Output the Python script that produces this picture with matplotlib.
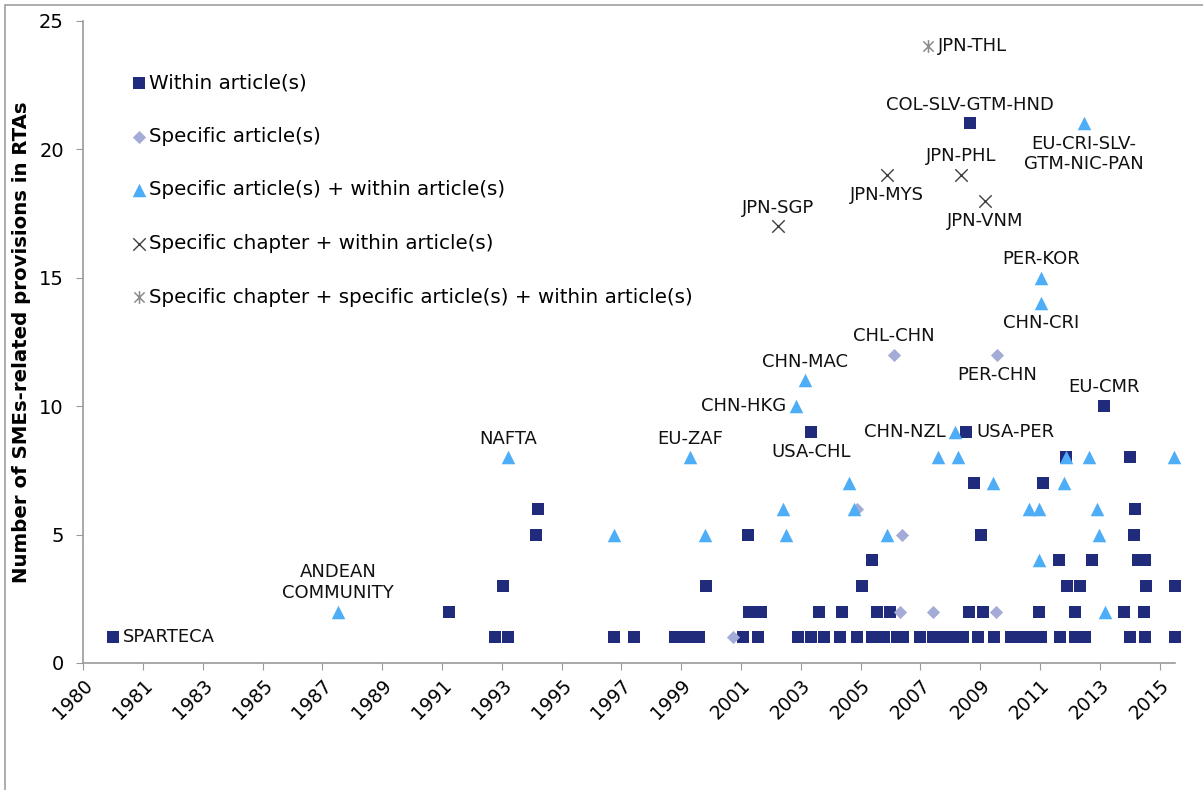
import numpy as np
import matplotlib
matplotlib.use("Agg")
import matplotlib.pyplot as plt
from matplotlib.path import Path

plt.rcParams['font.family'] = ['DejaVu Sans']

# year of entry into force (decimal years) and number of SME provisions
within_x = [2009.23, 2013.66, 2003.99, 2009.11, 2012.40, 2014.51, 2009.37, 2011.64,
            1994.99, 2014.68, 1994.93, 2001.92, 2009.60, 2014.65,
            2006.00, 2012.17, 2013.26, 2014.78, 2015.01,
            1993.84, 2000.53, 2005.67, 2012.43, 2012.86, 2015.05, 2016.00,
            1992.06, 2001.95, 2002.34, 2004.26, 2005.01, 2006.16, 2006.59, 2009.20,
            2009.67, 2011.51, 2012.70, 2014.31, 2014.98,
            1980.98, 1993.58, 1994.00, 1997.50, 1998.16, 1999.51, 1999.90, 2000.30,
            2001.75, 2002.25, 2003.56, 2003.99, 2004.42, 2004.95, 2005.51, 2006.00,
            2006.40, 2006.83, 2007.03, 2007.59, 2008.01, 2008.41, 2008.80, 2009.00,
            2009.50, 2010.03, 2010.59, 2010.98, 2011.38, 2011.58, 2012.19, 2012.70,
            2013.03, 2014.51, 2015.01, 2016.00]
within_y = [21, 10, 9, 9, 8, 8, 7, 7,
            6, 6, 5, 5, 5, 5,
            4, 4, 4, 4, 4,
            3, 3, 3, 3, 3, 3, 3,
            2, 2, 2, 2, 2, 2, 2, 2,
            2, 2, 2, 2, 2,
            1, 1, 1, 1, 1, 1, 1, 1,
            1, 1, 1, 1, 1, 1, 1, 1,
            1, 1, 1, 1, 1, 1, 1, 1,
            1, 1, 1, 1, 1, 1, 1, 1,
            1, 1, 1, 1]

specific_x = [2006.73, 2010.13, 2005.50, 2006.99, 2006.92, 2008.01, 2010.09, 2001.42]
specific_y = [12, 12, 6, 5, 2, 2, 2, 1]

spec_within_x = [2012.99, 2011.58, 2011.58, 2003.79, 2003.49, 2008.74,
                 1994.00, 2000.00, 2008.18, 2008.84, 2012.40, 2013.16, 2015.97,
                 2005.24, 2010.00, 2012.33,
                 2003.07, 2005.40, 2011.18, 2011.51, 2013.42,
                 1997.50, 2000.50, 2003.17, 2006.49, 2013.49,
                 2011.51, 1988.40, 2013.69]
spec_within_y = [21, 15, 14, 11, 10, 9,
                 8, 8, 8, 8, 8, 8, 8,
                 7, 7, 7,
                 6, 6, 6, 6, 6,
                 5, 5, 5, 5, 5,
                 4, 2, 2]

chapter_x = [2006.49, 2008.93, 2009.72, 2002.90]
chapter_y = [19, 19, 18, 17]

chapter_art_x = [2007.85]
chapter_art_y = [24]

series_names = ['Within article(s)',
                'Specific article(s)',
                'Specific article(s) + within article(s)',
                'Specific chapter + within article(s)',
                'Specific chapter + specific article(s) + within article(s)']

# agreement names shown next to their points
label_text = ['SPARTECA', 'ANDEAN\nCOMMUNITY', 'NAFTA', 'EU-ZAF', 'CHN-HKG', 'CHN-MAC',
              'USA-CHL', 'CHL-CHN', 'CHN-NZL', 'USA-PER', 'PER-CHN', 'EU-CMR',
              'CHN-CRI', 'PER-KOR', 'JPN-SGP', 'JPN-MYS', 'JPN-PHL', 'JPN-VNM',
              'COL-SLV-GTM-HND', 'EU-CRI-SLV-\nGTM-NIC-PAN', 'JPN-THL']
label_x = [1980.98, 1988.40, 1994.00, 2000.00, 2003.49, 2003.79,
           2003.99, 2006.73, 2008.74, 2009.11, 2010.13, 2013.66,
           2011.58, 2011.58, 2002.90, 2006.49, 2008.93, 2009.72,
           2009.23, 2012.99, 2007.85]
label_y = [1, 2, 8, 8, 10, 11,
           9, 12, 9, 9, 12, 10,
           14, 15, 17, 19, 19, 18,
           21, 21, 24]

# where each name sits relative to its point
label_pos = ['right', 'above', 'above', 'above', 'left', 'above',
             'below', 'above', 'left', 'right', 'below', 'above',
             'below', 'above', 'above', 'below', 'above', 'below',
             'above', 'below', 'right']

year_labels = ['1980', '1981', '1983', '1985', '1987', '1989', '1991', '1993', '1995',
               '1997', '1999', '2001', '2003', '2005', '2007', '2009', '2011', '2013',
               '2015']

navy = '#202B7B'
lavender = '#A3ABD6'
sky = '#4DADF7'
dark_grey = '#404040'
mid_grey = '#8C8C8C'
axis_grey = '#9A9A9A'

# asterisk: an x with a vertical stroke through it
star_path = Path([(-1, -1), (1, 1), (-1, 1), (1, -1), (0, -1.25), (0, 1.25)],
                 [Path.MOVETO, Path.LINETO, Path.MOVETO, Path.LINETO,
                  Path.MOVETO, Path.LINETO])

fig = plt.figure(figsize=(12.03, 7.90), dpi=100)
ax = fig.add_axes([83.3 / 1203, 127 / 790, 1092 / 1203, 642.3 / 790])

ax.scatter(within_x, within_y, marker='s', s=78, color=navy, linewidths=0,
           label=series_names[0], zorder=3, clip_on=False)
ax.scatter(specific_x, specific_y, marker='D', s=45, color=lavender, linewidths=0,
           label=series_names[1], zorder=4, clip_on=False)
ax.scatter(spec_within_x, spec_within_y, marker='^', s=95, color=sky, linewidths=0,
           label=series_names[2], zorder=5, clip_on=False)
ax.scatter(chapter_x, chapter_y, marker='x', s=80, color=dark_grey, linewidths=1.0,
           label=series_names[3], zorder=5, clip_on=False)
ax.scatter(chapter_art_x, chapter_art_y, marker=star_path, s=85, color=mid_grey,
           linewidths=1.1, label=series_names[4], zorder=5, clip_on=False)

offsets = {'above': ((0, 7), 'center', 'bottom'),
           'below': ((0, -8), 'center', 'top'),
           'left': ((-7, 0), 'right', 'center'),
           'right': ((7, 0), 'left', 'center')}
for txt, lx, ly, pos in zip(label_text, label_x, label_y, label_pos):
    off, ha, va = offsets[pos]
    ax.annotate(txt, (lx, ly), xytext=off, textcoords='offset points',
                ha=ha, va=va, fontsize=13, color='#111111', multialignment='center')

x_ticks = 1980 + np.arange(len(year_labels)) * 720 / 365.25
ax.set_xticks(x_ticks)
ax.set_xticklabels(year_labels, rotation=45, ha='right', va='top',
                   rotation_mode='anchor', fontsize=13.5)
ax.set_xlim(1980, 2016)
ax.set_ylim(0, 25)
ax.set_yticks(range(0, 26, 5))
ax.tick_params(axis='y', labelsize=14, length=5, color=axis_grey, pad=9)
ax.tick_params(axis='x', length=5, color=axis_grey, pad=4)

for side in ['top', 'right']:
    ax.spines[side].set_visible(False)
for side in ['left', 'bottom']:
    ax.spines[side].set_color(axis_grey)
    ax.spines[side].set_linewidth(1.2)

ax.set_ylabel('Number of SMEs-related provisions in RTAs', fontsize=14.2,
              fontweight='bold')
ax.yaxis.set_label_coords(-0.048, 0.5)

ax.legend(loc='upper left', bbox_to_anchor=(0.0464, 0.918), frameon=False,
          fontsize=14.3, handlelength=0.5, handletextpad=0.25, labelspacing=1.74,
          borderpad=0, borderaxespad=0, markerscale=1.0)

# chart frame (only its left and top edges fall inside the image)
fig.patches.append(plt.Rectangle((5 / 1203, -0.05), 1.1, (785 / 790) + 0.05,
                                 transform=fig.transFigure, fill=False,
                                 edgecolor='#A0A0A0', linewidth=1.2))

fig.savefig('out.png', dpi=100, facecolor='white')
